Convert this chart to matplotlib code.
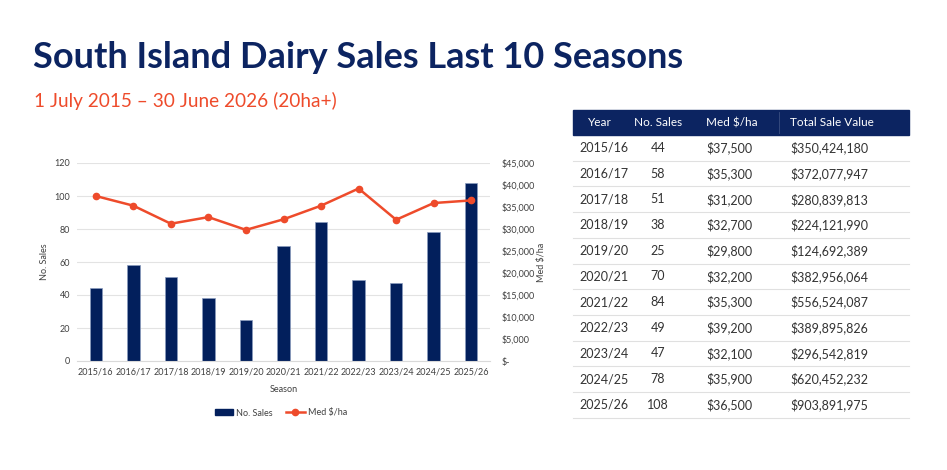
import matplotlib

matplotlib.use("Agg")
import matplotlib.pyplot as plt
from matplotlib.lines import Line2D
from matplotlib.ticker import FuncFormatter, MultipleLocator

seasons = ["2015/16", "2016/17", "2017/18", "2018/19", "2019/20", "2020/21",
           "2021/22", "2022/23", "2023/24", "2024/25", "2025/26"]
no_sales = [44, 58, 51, 38, 25, 70, 84, 49, 47, 78, 108]
med_per_ha = [37500, 35300, 31200, 32700, 29800, 32200, 35300, 39200, 32100, 35900, 36500]
total_value = ["$350,424,180", "$372,077,947", "$280,839,813", "$224,121,990",
               "$124,692,389", "$382,956,064", "$556,524,087", "$389,895,826",
               "$296,542,819", "$620,452,232", "$903,891,975"]
headers = ["Year", "No. Sales", "Med $/ha", "Total Sale Value"]

NAVY = "#0c2461"
BAR = "#021f5c"
RED = "#ee4b2b"
GREY_TXT = "#404040"

plt.rcParams["font.family"] = ["Lato", "DejaVu Sans"]

W, H = 947, 470
fig = plt.figure(figsize=(W / 100, H / 100), dpi=100)


def fx(px):
    return px / W


def fy(py):
    return 1 - py / H


fig.text(fx(33), fy(57), "South Island Dairy Sales Last 10 Seasons", fontsize=26,
         fontweight="bold", color=NAVY, va="center", ha="left")
fig.text(fx(34), fy(101), "1 July 2015 \u2013 30 June 2026 (20ha+)", fontsize=13.7,
         color=RED, va="center", ha="left")

# chart
ax = fig.add_axes([fx(77), fy(361), fx(490) - fx(77), fy(163) - fy(361)])
x = list(range(len(seasons)))
ax.bar(x, no_sales, width=0.33, color=BAR, edgecolor="#8a9bbd", linewidth=0.5, zorder=2)
ax.set_ylim(0, 120)
ax.set_xlim(-0.5, len(seasons) - 0.5)
ax.yaxis.set_major_locator(MultipleLocator(20))
ax.grid(axis="y", color="#e3e3e3", linewidth=0.8, zorder=0)
ax.set_xticks(x)
ax.set_xticklabels(seasons)
for side in ["top", "right", "left"]:
    ax.spines[side].set_visible(False)
ax.spines["bottom"].set_color("#d9d9d9")
ax.tick_params(length=0, labelsize=6.5, colors=GREY_TXT, pad=5)
ax.set_xlabel("Season", fontsize=6.5, color=GREY_TXT, labelpad=6)
ax.set_ylabel("No. Sales", fontsize=6.5, color=GREY_TXT, labelpad=4)

ax2 = ax.twinx()
ax2.plot(x, med_per_ha, color=RED, linewidth=1.8, marker="o", markersize=4.5, zorder=3)
ax2.set_ylim(0, 45000)
ax2.yaxis.set_major_locator(MultipleLocator(5000))
ax2.yaxis.set_major_formatter(FuncFormatter(lambda v, p: "$-" if v == 0 else f"${v:,.0f}"))
for side in ["top", "right", "left", "bottom"]:
    ax2.spines[side].set_visible(False)
ax2.tick_params(length=0, labelsize=6.5, colors=GREY_TXT, pad=8)
ax2.set_ylabel("Med $/ha", fontsize=6.5, color=GREY_TXT, labelpad=2)

handles = [plt.Rectangle((0, 0), 1, 1, color=BAR),
           Line2D([0], [0], color=RED, linewidth=1.8, marker="o", markersize=4.5)]
fig.legend(handles, ["No. Sales", "Med $/ha"], loc="center", bbox_to_anchor=(fx(281), fy(413)),
           ncol=2, frameon=False, fontsize=6.5, handlelength=2.0, handleheight=0.6,
           handletextpad=0.4, columnspacing=1.5, labelcolor=GREY_TXT)

# table
left, right = 573, 909
head_top, head_bot = 110, 135
row_h = 25.7
fig.patches.append(plt.Rectangle((fx(left), fy(head_bot)), fx(right) - fx(left),
                                 fy(head_top) - fy(head_bot), transform=fig.transFigure,
                                 color=NAVY, zorder=1))
fig.add_artist(Line2D([fx(779), fx(779)], [fy(head_top + 2), fy(head_bot - 2)],
                      transform=fig.transFigure, color="#3a4f82", linewidth=0.6))
head_y = (head_top + head_bot) / 2
fig.text(fx(600), fy(head_y), headers[0], color="white", fontsize=8.5, ha="center", va="center")
fig.text(fx(658), fy(head_y), headers[1], color="white", fontsize=8.5, ha="center", va="center")
fig.text(fx(706), fy(head_y), headers[2], color="white", fontsize=8.5, ha="left", va="center")
fig.text(fx(790), fy(head_y), headers[3], color="white", fontsize=8.5, ha="left", va="center")

for i, season in enumerate(seasons):
    top = head_bot + i * row_h
    yc = top + row_h / 2
    fig.text(fx(579), fy(yc), season, color="#333333", fontsize=9, ha="left", va="center")
    fig.text(fx(658), fy(yc), str(no_sales[i]), color="#333333", fontsize=9, ha="center", va="center")
    fig.text(fx(706), fy(yc), f"${med_per_ha[i]:,}", color="#333333", fontsize=9, ha="left", va="center")
    fig.text(fx(790), fy(yc), total_value[i], color="#333333", fontsize=9, ha="left", va="center")
    fig.add_artist(Line2D([fx(left), fx(right)], [fy(top + row_h), fy(top + row_h)],
                          transform=fig.transFigure, color="#e0e0e0", linewidth=0.8))

fig.savefig("out.png", dpi=100)
